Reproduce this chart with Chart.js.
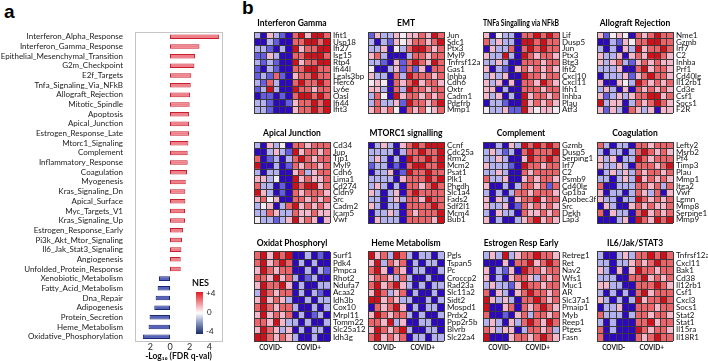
<!DOCTYPE html>
<html>
<head>
<meta charset="utf-8">
<script src="https://cdn.jsdelivr.net/npm/chart.js@4.4.0/dist/chart.umd.min.js"></script>
<style>
  body { margin: 0; width: 708px; height: 361px; overflow: hidden; background: #fff; position: relative; }
  canvas { position: absolute; }
  .panel { position: absolute; font: bold 19px 'Liberation Sans', Arial, sans-serif; color: #000; }
  .nes { position: absolute; font: bold 9px Lato, sans-serif; color: #111; }
  .nes-lab { position: absolute; font: 8px Lato, sans-serif; color: #222; }
  .bar-scale { position: absolute; left: 196px; top: 292px; width: 7px; height: 42px;
    background: linear-gradient(to bottom, #e3191f 0%, #f39aa0 28%, #ffffff 50%, #8d9cc4 72%, #152a6b 100%); }
</style>
</head>
<body>
<div class="panel" style="left:4px;top:1px">a</div>
<div class="panel" style="left:242px;top:-3px">b</div>
<canvas id="gsea" width="226" height="361" style="left:0;top:0"></canvas>
<div class="nes" style="left:192px;top:277px">NES</div>
<div class="bar-scale"></div>
<div class="nes-lab" style="left:206px;top:288px">+4</div>
<div class="nes-lab" style="left:207px;top:307px">0</div>
<div class="nes-lab" style="left:206px;top:326px">-4</div>

<script>
// 패널 a : GSEA hallmark 경로
const pathways = [
  'Interferon_Alpha_Response', 'Interferon_Gamma_Response', 'Epithelial_Mesenchymal_Transition',
  'G2m_Checkpoint', 'E2f_Targets', 'Tnfa_Signaling_Via_NFkB', 'Allograft_Rejection',
  'Mitotic_Spindle', 'Apoptosis', 'Apical_Junction', 'Estrogen_Response_Late',
  'Mtorc1_Signaling', 'Complement', 'Inflammatory_Response', 'Coagulation', 'Myogenesis',
  'Kras_Signaling_Dn', 'Apical_Surface', 'Myc_Targets_V1', 'Kras_Signaling_Up',
  'Estrogen_Response_Early', 'Pi3k_Akt_Mtor_Signaling', 'Il6_Jak_Stat3_Signaling',
  'Angiogenesis', 'Unfolded_Protein_Response', 'Xenobiotic_Metabolism',
  'Fatty_Acid_Metabolism', 'Dna_Repair', 'Adipogenesis', 'Protein_Secretion',
  'Heme_Metabolism', 'Oxidative_Phosphorylation'
];
// -log10(FDR), 음수 = NES 음수
const fdrScores = [
  5.0, 3.0, 2.55, 2.48, 2.17, 2.11, 2.04, 2.0, 1.94, 1.94, 1.94, 1.87, 1.8, 1.8, 1.73,
  1.6, 1.56, 1.56, 1.53, 1.53, 1.33, 1.22, 1.16, 1.09, 1.09,
  -1.12, -1.26, -1.46, -1.6, -2.08, -2.18, -2.76
];
const fdrTicks = [-2, 0, 2, 4];

// 패널 b : 히트맵 (열 12개 = 샘플, 앞 6개 COVID-, 뒤 6개 COVID+)
const groupLabels = ['COVID-', 'COVID+'];

const ifngTitle = 'Interferon Gamma';
const ifngGenes = ['Ifit1', 'Usp18', 'Ifi27', 'Isg15', 'Rtp4', 'Ifi44l', 'Lgals3bp', 'Herc6', 'Ly6e', 'Oasl', 'Ifi44', 'Ifit3'];
const ifngValues = [
  [-1, -3, 1, -1, -2, -3, 2, 3, 1, 3, 3, 2],
  [-3, -3, -1, -2, -3, -3, 2, 2, 3, 3, 2, 3],
  [-1, -1, -2, -3, -1, -3, 3, 1, 2, 2, 3, 3],
  [-2, -2, 1, -1, -3, -3, 2, 2, 3, 3, 3, 2],
  [-1, -2, -1, -2, -3, -3, 3, 1, 2, 2, 3, 3],
  [-2, -3, -1, -2, -3, -3, 2, 2, 3, 3, 2, 2],
  [-2, -1, -2, 2, -2, -3, 1, 2, 2, 3, 2, 2],
  [-1, -2, 2, -1, -3, -3, 2, 3, 2, 2, 3, 2],
  [-2, -1, 3, -1, -3, -3, 3, 2, 2, 1, 2, 2],
  [-3, -2, -2, -3, -2, -3, 2, 3, 3, 2, 3, 2],
  [-1, -1, -2, -3, -3, -2, 1, 2, 2, 3, 2, 3],
  [-1, -1, -2, -3, -3, -3, 1, 2, 2, 3, 2, 3]
];

const emtTitle = 'EMT';
const emtGenes = ['Jun', 'Sdc1', 'Ptx3', 'Myl9', 'Tnfrsf12a', 'Gas1', 'Inhba', 'Cdh6', 'Oxtr', 'Cadm1', 'Pdgfrb', 'Mmp1'];
const emtValues = [
  [-2, 1, -1, -1, 1, 0, 1, 1, 2, 1, 3, 2],
  [-1, -3, -1, -2, 1, 0, 1, 2, 2, 1, 2, 3],
  [-1, -1, 1, -3, 0, -1, 2, 3, 3, 2, 1, 2],
  [1, 2, -1, -3, -3, -3, -1, 2, 2, 1, 2, 2],
  [-1, -1, -2, -3, 1, -2, 2, 3, 2, 1, 3, 2],
  [0, -3, -3, -1, 1, -2, 2, -2, 1, -3, 2, 2],
  [1, -1, -1, -3, 2, -1, 3, 2, 2, 2, 1, 2],
  [0, 1, 0, -3, 2, 1, 2, 3, 1, 2, 2, 1],
  [1, 1, -1, -3, 2, -1, 3, 2, 2, 1, 2, 2],
  [-1, 2, 0, -3, 3, 1, 2, 2, 1, 2, 1, 2],
  [-1, 2, -1, -1, 1, -2, 3, 2, 2, 1, 2, 3],
  [1, 2, 1, 2, 0, -3, 2, 1, 2, 0, 1, 2]
];

const tnfTitle = 'TNFa Singalling via NFkB';
const tnfGenes = ['Lif', 'Dusp5', 'Jun', 'Ptx3', 'Btg3', 'Ifit2', 'Cxcl10', 'Cxcl11', 'Ifih1', 'Inhba', 'Plau', 'Atf3'];
const tnfValues = [
  [1, -3, 0, -1, -1, -3, 2, 2, 3, 2, 3, 2],
  [2, -1, 1, -1, -1, -3, 3, 3, 2, 3, 2, 2],
  [-3, 1, -1, -1, 2, -3, 2, 3, 2, 3, 2, 2],
  [1, -1, -1, 3, -1, -3, 3, 2, 1, 2, 2, 1],
  [-1, -1, 1, -1, -3, -3, 2, 2, 2, 1, 2, 2],
  [1, -3, -1, -2, -3, 1, 2, 1, 2, 1, 2, 1],
  [-1, 1, -1, 1, -3, -3, 3, 2, 2, 1, 2, 2],
  [1, -1, 1, -3, 1, -3, 2, 2, 1, 3, 2, 1],
  [1, 1, -3, -1, -3, -3, 2, 2, 2, 1, 2, 2],
  [1, -1, 1, -3, -1, -3, 3, 1, 2, 2, 1, 2],
  [-3, -1, -1, -2, -3, -3, 3, 1, 2, 1, 2, 1],
  [0, -1, -1, 1, -2, -2, 3, 1, 0, 1, 1, 0]
];

const alloTitle = 'Allograft Rejection';
const alloGenes = ['Nme1', 'Gzmb', 'Irf7', 'C2', 'Inhba', 'Prf1', 'Cd40lg', 'Il12rb1', 'Cd3e', 'Csf1', 'Socs1', 'F2R'];
const alloValues = [
  [1, -2, 0, 1, 0, -3, 2, 1, 2, 3, 2, 2],
  [-3, -3, -1, -2, 1, 0, 2, 2, 3, 3, 2, 2],
  [-1, -3, -1, -3, 1, -1, 3, 1, 2, 2, 3, 2],
  [1, -1, -1, 1, -3, 1, 2, 1, 3, 3, 2, 1],
  [1, -1, 1, 2, -1, -2, 1, 2, 1, 2, 1, 1],
  [-1, -1, -1, 1, -3, -3, 2, 3, 1, 2, 2, 1],
  [-3, -1, -1, -1, 1, -2, 1, 2, 3, 2, 2, 1],
  [1, -3, -3, 1, 0, -1, 3, 2, 1, 2, 1, 2],
  [-1, 1, -1, -3, 1, -3, 2, 1, 2, 1, 2, 1],
  [1, -2, -1, 1, -1, 1, 2, 2, 3, 3, 1, 2],
  [3, -1, 1, 1, -3, -1, 2, 1, 2, 3, 2, 1],
  [1, -2, 1, -1, -3, 2, 1, -1, 1, -3, 1, 1]
];

const apicalTitle = 'Apical Junction';
const apicalGenes = ['Cd34', 'Jup', 'Tjp1', 'Myl9', 'Cdh6', 'Lima1', 'Cd274', 'Cldn9', 'Src', 'Cadm2', 'Icam5', 'Vwf'];
const apicalValues = [
  [-1, -3, 1, -1, 0, -3, 2, 2, 1, 2, 2, 2],
  [-3, -3, -1, 1, -1, -2, 3, 1, 2, 2, 1, 2],
  [2, -3, -2, -1, -3, -1, 2, 3, 2, 1, 2, 2],
  [3, -3, -3, -1, -3, -2, 2, 1, 2, 2, 1, 2],
  [-1, -3, -1, -1, -3, -3, 1, 2, -1, 1, 2, 2],
  [1, 1, -1, 0, -3, -3, 3, 1, 2, 1, 1, 2],
  [2, -1, -1, -3, -2, -3, 3, 2, 3, 3, 1, 2],
  [3, 1, -1, -3, -2, -3, 2, 1, 2, 2, 2, 1],
  [1, 2, 0, 1, -3, -3, 2, 2, 1, 2, 1, 2],
  [-1, 0, 1, -3, -1, 2, 3, 1, 2, 1, 2, 1],
  [-1, -1, 2, 1, -1, -1, 2, 1, 1, 2, 1, 1],
  [0, -1, -1, -2, -1, 1, 3, 1, 2, 1, -3, 1]
];

const mtorTitle = 'MTORC1 signalling';
const mtorGenes = ['Ccnf', 'Cdc25a', 'Rrm2', 'Mcm2', 'Psat1', 'Plk1', 'Phgdh', 'Slc1a4', 'Fads2', 'Sdf2l1', 'Mcm4', 'Bub1'];
const mtorValues = [
  [-3, -1, 1, -1, -3, 1, 2, 3, 2, 3, 3, 3],
  [-1, -1, -1, -1, -3, -1, 2, 2, 3, 2, 2, 3],
  [-1, 1, -1, -3, -1, -3, 3, 2, 2, 3, 2, 3],
  [-2, -1, -1, -3, -2, -3, 2, 3, 3, 2, 2, 3],
  [-3, -1, -1, 1, -3, -2, 3, 2, 2, 3, 2, 2],
  [-1, -1, -1, -1, -3, 1, 2, 2, 2, 3, 2, 3],
  [-1, 1, -1, -3, -1, -3, 2, 2, 1, 2, 3, 2],
  [1, -1, -3, -1, 1, -3, 2, 3, 2, 2, 2, 2],
  [-1, -1, -3, -1, 1, -1, 2, 2, 1, 3, 2, 2],
  [1, -1, -3, -1, -1, -3, 2, 2, 2, 2, 3, 2],
  [-3, -1, -1, 1, -1, -3, 2, 1, 2, 2, 2, 3],
  [-3, 1, -1, -1, -1, -3, 2, 2, 2, 2, 1, 3]
];

const complTitle = 'Complement';
const complGenes = ['Gzmb', 'Dusp5', 'Serping1', 'Irf7', 'C2', 'Psmb9', 'Cd40lg', 'Gp1ba', 'Apobec3f', 'Src', 'Dgkh', 'Lap3'];
const complValues = [
  [-3, -3, -1, -3, 1, -1, 3, 2, 3, 2, 3, 2],
  [-1, 1, -1, -2, -1, -3, 2, 3, 2, 2, 2, 3],
  [-1, -1, 1, -1, -3, -3, 1, 3, 2, 2, 3, 2],
  [1, -1, -1, -1, -2, -3, 3, 2, 2, 1, 2, 2],
  [-1, -1, 1, -1, -3, -3, 2, 1, 2, 2, 2, 2],
  [2, -1, -1, 1, -3, -3, 1, 2, 1, 2, 2, 1],
  [1, -3, -3, -1, -3, -1, 2, 2, 1, 2, -2, 2],
  [-1, -3, -1, -3, -1, 2, 2, 1, 2, 2, 2, 1],
  [1, -3, 1, -1, -3, 1, 2, 2, 3, 1, 2, 2],
  [1, -1, -1, 1, -3, -2, 2, 1, 2, 1, 2, 1],
  [-1, -3, 1, -1, -1, -3, 2, 1, 1, 2, 1, 2],
  [1, -3, -1, -3, -3, -1, 1, 2, 3, 1, 2, 1]
];

const coagTitle = 'Coagulation';
const coagGenes = ['Lefty2', 'Msrb2', 'Pf4', 'Timp3', 'Plau', 'Mmp1', 'Itga2', 'Vwf', 'Lgmn', 'Mmp8', 'Serpine1', 'Mmp9'];
const coagValues = [
  [2, -1, -3, -1, -1, -3, 2, 2, 1, 2, 2, 2],
  [-1, -3, -1, -1, -3, -1, 2, 3, 2, 1, 2, 1],
  [1, -1, 1, -3, -1, -1, 3, 2, 1, 2, 2, 2],
  [1, -1, -1, 1, -1, -3, 2, 2, 2, 1, 2, 3],
  [-3, -1, 1, -1, 1, -1, 2, 1, 2, 2, 1, 2],
  [-1, -1, -3, -1, 1, -1, 3, 1, 2, 1, 2, 1],
  [2, -3, -3, -1, -1, -1, 2, 2, 1, 2, -1, 2],
  [1, -3, -1, -1, -3, -1, 2, 1, -1, 2, -3, 1],
  [1, -1, -1, -3, -1, -1, 3, 2, 1, 2, 1, 2],
  [-3, 1, -1, -3, -3, 1, 2, 1, 2, 1, 1, 2],
  [2, -3, 1, -1, -1, -3, 2, 3, 1, 2, 1, 2],
  [-3, -3, -3, -1, 1, -3, 3, 2, 1, 3, 2, 3]
];

const oxphosTitle = 'Oxidat Phosphoryl';
const oxphosGenes = ['Surf1', 'Pdk4', 'Pmpca', 'Rhot2', 'Ndufa7', 'Acaa2', 'Idh3b', 'Cox10', 'Mrpl11', 'Tomm22', 'Slc25a12', 'Idh3g'];
const oxphosValues = [
  [2, 3, 1, 3, 2, 3, -3, -3, -1, -3, -2, -3],
  [2, 3, 1, 2, 3, 2, -3, -1, -3, -1, -3, -3],
  [1, 3, 2, 1, 2, 2, -3, -3, -1, -3, -1, -2],
  [2, 2, 1, 3, 1, 2, -1, -3, -2, -1, -3, -3],
  [1, 3, 2, 2, 3, 1, -3, -1, -3, -3, -1, -1],
  [-1, 3, 2, 1, 2, 2, -3, -1, -3, -1, -2, -3],
  [1, 3, 1, 2, 1, -1, -3, -3, -1, -3, -1, -1],
  [2, 3, 2, 1, 2, 2, -1, -3, -3, -1, -3, -1],
  [1, 3, 1, 2, 1, 2, -3, -1, -3, -2, -1, -3],
  [2, 2, 1, 3, 1, -1, -1, -3, -1, -3, -3, -1],
  [1, 3, 2, 1, -1, 1, -3, -1, -3, -1, -1, -3],
  [3, 3, 2, 1, 2, 1, -1, -3, -3, -1, -3, -3]
];

const hemeTitle = 'Heme Metabolism';
const hemeGenes = ['Pgls', 'Tspan5', 'Pc', 'Croccp2', 'Rad23a', 'Slc11a2', 'Sidt2', 'Mospd1', 'Prdx2', 'Ppp2r5b', 'Blvrb', 'Slc22a4'];
const hemeValues = [
  [3, 1, 2, -1, 3, 2, -1, -3, -1, -1, -3, -1],
  [1, 3, -1, 2, 1, 2, -3, -1, -3, -1, -1, -3],
  [2, 3, 1, -3, 2, 1, -3, -1, -1, -3, -3, -1],
  [1, 2, 2, 1, -1, 2, -1, -3, -3, -1, -3, -3],
  [2, 3, 1, 2, 3, 1, -1, -3, -1, -3, -1, -1],
  [1, 3, 2, -1, 1, 2, -3, -1, -3, -3, -1, -3],
  [3, 3, 1, 2, 1, -1, -1, -3, -3, -1, -3, -1],
  [-3, 2, 1, 2, 3, 1, -3, -1, -3, -1, -1, -3],
  [1, 3, 2, 1, 2, 2, -1, -3, -1, -3, -3, -1],
  [2, 2, 1, 3, -1, 1, -3, -3, -1, -1, -3, -3],
  [1, 3, 2, 1, 2, 3, -1, -3, -3, -1, -1, -3],
  [2, 3, 1, 2, 1, 2, -3, -1, -1, -3, -1, -1]
];

const estroTitle = 'Estrogen Resp Early';
const estroGenes = ['Retreg1', 'Ret', 'Nav2', 'Wfs1', 'Muc1', 'AR', 'Slc37a1', 'Pmaip1', 'Myb', 'Reep1', 'Ptges', 'Fasn'];
const estroValues = [
  [-1, 1, -1, 3, -1, 1, 2, 2, 3, 2, 2, 1],
  [-3, -3, -3, 1, -3, 2, 2, 3, 1, 2, 3, 2],
  [1, -3, -1, -2, 1, -3, 3, 2, 2, 1, 2, 2],
  [1, -3, -1, -3, 1, 2, 2, 1, -1, 2, 1, 2],
  [-1, 1, -1, -1, -2, 1, 3, 2, 2, 1, 2, 2],
  [2, -3, 1, -1, -3, 1, 2, 3, 2, 2, 1, 2],
  [3, 1, -1, 1, -1, -3, 2, 2, 3, 2, 1, 2],
  [3, -3, -3, 1, 2, -3, 2, 1, 2, 3, 2, 1],
  [2, -3, -3, -2, -3, 1, 2, -1, 2, 2, 1, 2],
  [-1, 1, -1, -3, 1, -1, 2, 3, 2, 1, 3, 2],
  [2, 1, -1, 1, 1, -3, -1, 2, 2, 1, 2, -1],
  [3, -3, -3, -3, 1, 2, 2, 1, 2, 3, 2, 1]
];

const il6Title = 'IL6/Jak/STAT3';
const il6Genes = ['Tnfrsf12a', 'Cxcl11', 'Bak1', 'Cd38', 'Il12rb1', 'Csf1', 'Cxcl3', 'Socs1', 'Stat2', 'Stat1', 'Il15ra', 'Il18R1'];
const il6Values = [
  [-1, -3, -3, -1, 1, -1, 2, 2, 3, 2, 3, 2],
  [-1, -1, -3, -1, -1, 1, 2, 1, 2, 3, 2, 2],
  [1, -1, -3, 1, -3, 1, 3, 2, 2, 1, 2, 2],
  [-1, -1, -1, -3, -3, 2, 2, 3, 1, 2, 1, 2],
  [1, 1, -1, -1, -3, -3, 2, 2, 2, 3, 2, 1],
  [-1, -3, -1, -3, -1, -3, 2, 3, 1, 2, 2, 2],
  [1, -1, -3, -1, -3, -1, 3, 1, 2, 2, 3, 2],
  [-3, -1, -1, 1, -3, -3, 2, 2, 2, 1, 2, 2],
  [2, -1, -1, -1, -3, -1, 2, 2, 1, 2, 2, 1],
  [-1, -3, -1, -3, -3, -3, 2, 2, 3, 1, 2, 2],
  [2, -3, -1, -3, -3, -3, 3, 2, 1, 2, 2, 1],
  [2, -3, -3, -3, -3, -3, 2, 1, 2, 3, 2, 2]
];

// 히트맵 배치 (열 x, 행 y)
const colLeft = [254, 368, 483, 597];
const rowTop = [32, 142, 252];
const gridW = 76, gridH = 89, labelW = 37, labelExtra = 14, titleH = 14, covH = 12;

const textFont = 'Lato, "Open Sans", sans-serif';

// 색상 : -3 (파랑) ~ 0 (흰색) ~ +3 (빨강)
const colorStops = [
  [45, 8, 190], [100, 92, 225], [180, 178, 238], [242, 236, 242],
  [244, 184, 202], [234, 100, 106], [206, 16, 26]
];
function cellColor(v) {
  const t = Math.max(-3, Math.min(3, v)) + 3;
  const i = Math.min(5, Math.floor(t));
  const f = t - i;
  const a = colorStops[i], b = colorStops[i + 1];
  const c = a.map((x, k) => Math.round(x + (b[k] - x) * f));
  return `rgb(${c[0]},${c[1]},${c[2]})`;
}

// 패널 a 차트
new Chart(document.getElementById('gsea'), {
  type: 'bar',
  data: {
    labels: pathways,
    datasets: [{
      data: fdrScores,
      backgroundColor: fdrScores.map((v) => (v > 0 ? '#f07f8a' : '#5563b8')),
      borderColor: fdrScores.map((v) => (v > 0 ? '#c51f2b' : '#1b2675')),
      borderWidth: 1,
      borderSkipped: false,
      barPercentage: 0.47,
      categoryPercentage: 1,
    }],
  },
  options: {
    indexAxis: 'y',
    responsive: false,
    animation: false,
    layout: { padding: { top: 32, right: 4 } },
    plugins: { legend: { display: false }, tooltip: { enabled: false } },
    scales: {
      x: {
        min: -3.56,
        max: 5.29,
        afterBuildTicks: (s) => { s.ticks = fdrTicks.map((v) => ({ value: v })); },
        ticks: { callback: (v) => String(Math.abs(v)), font: { family: textFont, size: 9, lineHeight: 1 }, color: '#222', padding: 1 },
        grid: { display: false, drawTicks: false, tickLength: 0 },
        border: { color: '#c4c4c4' },
        title: {
          display: true,
          text: '-Log\u2081\u2080 (FDR q-val)',
          font: { family: textFont, size: 8.5, weight: 'bold', lineHeight: 1 },
          color: '#111',
          padding: 0,
        },
      },
      xTop: {
        position: 'top', min: 0, max: 1,
        ticks: { display: false }, grid: { display: false },
        border: { color: '#c4c4c4' },
        afterFit: (s) => { s.height = 0; },
      },
      y: {
        ticks: { font: { family: textFont, size: 8 }, color: '#1a1a1a', padding: 4, autoSkip: false },
        grid: { display: false },
        border: { color: '#c4c4c4' },
        afterFit: (s) => { s.width = 135; },
      },
      yRight: {
        position: 'right', min: 0, max: 1,
        ticks: { display: false }, grid: { display: false },
        border: { color: '#c4c4c4' },
        afterFit: (s) => { s.width = 0; },
      },
    },
  },
});

// 히트맵 하나 그리기
function heatmap(col, row, title, genes, values) {
  const bottom = row === 2;
  const canvas = document.createElement('canvas');
  canvas.width = gridW + labelW + labelExtra;
  canvas.height = titleH + gridH + (bottom ? covH : 0);
  canvas.style.left = colLeft[col] + 'px';
  canvas.style.top = rowTop[row] - titleH + 'px';
  document.body.appendChild(canvas);

  const nCols = values[0].length;
  const datasets = values[0].map((_, c) => ({
    data: genes.map(() => 1),
    backgroundColor: values.map((r) => cellColor(r[c])),
    borderWidth: 0,
    barPercentage: 1,
    categoryPercentage: 1,
  }));

  new Chart(canvas, {
    type: 'bar',
    data: { labels: genes, datasets },
    options: {
      indexAxis: 'y',
      responsive: false,
      animation: false,
      layout: { padding: { right: labelExtra } },
      plugins: { legend: { display: false }, tooltip: { enabled: false } },
      scales: {
        x: {
          stacked: true,
          min: 0,
          max: nCols,
          ticks: { display: false, stepSize: 1, maxTicksLimit: 20 },
          grid: { color: '#3a3a3a', drawTicks: false, z: 1 },
          border: { display: false },
          afterFit: (s) => { s.height = 0; },
        },
        // 제목 : 격자 위 가운데
        head: {
          type: 'linear',
          position: 'top',
          min: 0,
          max: 1,
          ticks: { display: false },
          grid: { display: false, drawTicks: false },
          border: { display: false },
          title: {
            display: true,
            text: title,
            color: '#000',
            font: { family: textFont, size: 8.5, weight: 'bold', lineHeight: 1.2 },
            padding: { top: 0, bottom: 0 },
          },
          afterFit: (s) => { s.height = titleH; },
        },
        cov: {
          type: 'linear',
          position: 'bottom',
          display: bottom,
          min: 0,
          max: nCols,
          afterBuildTicks: (s) => {
            s.ticks = groupLabels.map((_, g) => ({ value: (g + 0.44) * nCols / groupLabels.length }));
          },
          ticks: {
            callback: (v, i) => groupLabels[i],
            font: { family: textFont, size: 6.5, weight: 'bold' },
            color: '#111',
            padding: 3,
            maxRotation: 0,
          },
          grid: { display: false, drawTicks: false },
          border: { display: false },
          afterFit: (s) => { s.height = bottom ? covH : 0; },
        },
        y: {
          stacked: true,
          position: 'right',
          ticks: { font: { family: textFont, size: 8 }, color: '#111', padding: 3, autoSkip: false },
          grid: { offset: true, color: '#3a3a3a', drawTicks: false, z: 1 },
          border: { display: false },
          afterFit: (s) => { s.width = labelW; },
        },
      },
    },
  });
}

heatmap(0, 0, ifngTitle, ifngGenes, ifngValues);
heatmap(1, 0, emtTitle, emtGenes, emtValues);
heatmap(2, 0, tnfTitle, tnfGenes, tnfValues);
heatmap(3, 0, alloTitle, alloGenes, alloValues);
heatmap(0, 1, apicalTitle, apicalGenes, apicalValues);
heatmap(1, 1, mtorTitle, mtorGenes, mtorValues);
heatmap(2, 1, complTitle, complGenes, complValues);
heatmap(3, 1, coagTitle, coagGenes, coagValues);
heatmap(0, 2, oxphosTitle, oxphosGenes, oxphosValues);
heatmap(1, 2, hemeTitle, hemeGenes, hemeValues);
heatmap(2, 2, estroTitle, estroGenes, estroValues);
heatmap(3, 2, il6Title, il6Genes, il6Values);
</script>
</body>
</html>
